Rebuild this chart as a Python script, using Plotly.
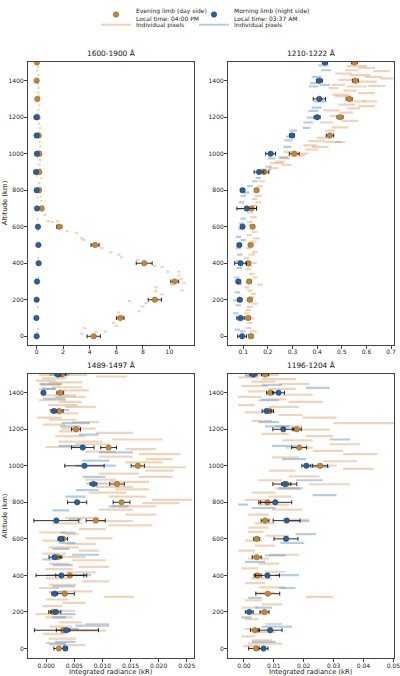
import plotly.graph_objects as go

ALT = [0, 100, 200, 300, 400, 500, 600, 700, 800, 900, 1000, 1100, 1200, 1300, 1400, 1500]

TITLES = ["1600-1900 Å", "1210-1222 Å", "1489-1497 Å", "1196-1204 Å"]
X_TITLE = "Integrated radiance (kR)"
Y_TITLE = "Altitude (km)"

# ---------------- Panel 1 : 1600-1900 A ----------------
p1_eve = [4.3, 6.3, 8.9, 10.4, 8.1, 4.4, 1.7, 0.38, 0.18, 0.2, 0.2, 0.15, 0.06, 0.05, 0.0, 0.02]
p1_eve_err = [0.5, 0.28, 0.5, 0.3, 0.6, 0.3, 0.2, 0.08, 0.06, 0.06, 0.06, 0.05, 0.04, 0.04, 0.04, 0.04]
p1_mor = [0.0, -0.02, 0.0, 0.03, 0.15, 0.13, 0.1, 0.03, 0.0, -0.05, 0.02, 0.0, -0.02, None, None, None]
p1_mor_err = [0.03] * 16
p1_eve_pix = [
    (1495, 0.05, 0.08), (1475, 0.1, 0.08), (1455, 0.05, 0.08), (1430, 0.12, 0.08), (1410, 0.08, 0.08),
    (1385, 0.1, 0.08), (1360, 0.15, 0.08), (1335, 0.12, 0.08), (1315, 0.18, 0.08), (1290, 0.1, 0.08),
    (1265, 0.2, 0.08), (1240, 0.15, 0.08), (1215, 0.1, 0.08), (1190, 0.22, 0.08), (1165, 0.18, 0.08),
    (1140, 0.25, 0.08), (1115, 0.2, 0.08), (1090, 0.3, 0.08), (1065, 0.22, 0.08), (1040, 0.28, 0.08),
    (1015, 0.2, 0.08), (990, 0.3, 0.08), (965, 0.25, 0.08), (940, 0.22, 0.08), (915, 0.3, 0.08),
    (890, 0.25, 0.08), (865, 0.35, 0.08), (840, 0.2, 0.08), (815, 0.3, 0.08), (790, 0.25, 0.08),
    (765, 0.3, 0.08), (740, 0.35, 0.08), (715, 0.45, 0.08), (690, 0.4, 0.08), (665, 0.6, 0.1),
    (631, 0.88, 0.12), (626, 1.2, 0.12), (629, 1.58, 0.12), (576, 2.29, 0.12), (567, 3.0, 0.12),
    (536, 3.4, 0.12), (528, 3.55, 0.12), (483, 4.9, 0.12), (460, 5.6, 0.12), (447, 6.2, 0.12),
    (433, 6.4, 0.12), (418, 7.6, 0.12), (384, 8.87, 0.12), (379, 9.45, 0.12), (354, 9.87, 0.12),
    (354, 10.7, 0.12), (334, 10.75, 0.12), (313, 10.9, 0.12), (290, 11.1, 0.12), (282, 10.2, 0.12),
    (250, 10.95, 0.12), (268, 9.0, 0.12), (247, 8.95, 0.12), (229, 9.45, 0.12), (182, 8.24, 0.12),
    (164, 8.0, 0.12), (193, 7.0, 0.12), (138, 7.7, 0.12), (130, 6.16, 0.12), (111, 6.5, 0.12),
    (75, 5.8, 0.12), (57, 6.0, 0.12), (27, 5.18, 0.12), (45, 3.6, 0.12), (14, 3.4, 0.12), (23, 4.47, 0.12),
]
p1_mor_pix = [
    (1100, 0.1, 0.05), (980, 0.08, 0.05), (880, 0.05, 0.05), (760, 0.08, 0.05), (640, 0.05, 0.05),
    (580, 0.1, 0.05), (510, 0.12, 0.05), (430, 0.1, 0.05), (320, 0.15, 0.05), (290, 0.1, 0.05),
    (200, 0.12, 0.05), (160, 0.08, 0.05), (40, 0.1, 0.05), (20, 0.05, 0.05),
]

# ---------------- Panel 2 : 1210-1222 A ----------------
p2_eve = [0.131, 0.12, 0.127, 0.124, 0.12, 0.13, 0.138, 0.134, 0.154, 0.184, 0.307, 0.452, 0.493, 0.53, 0.555, 0.551]
p2_eve_err = [0.008, 0.008, 0.008, 0.008, 0.008, 0.008, 0.008, 0.02, 0.008, 0.02, 0.02, 0.015, 0.012, 0.012, 0.012, 0.012]
p2_mor = [0.095, 0.089, 0.086, 0.08, 0.089, 0.084, 0.097, 0.114, 0.097, 0.164, 0.211, 0.298, 0.40, 0.409, 0.409, 0.432]
p2_mor_err = [0.018, 0.015, 0.008, 0.008, 0.024, 0.008, 0.008, 0.04, 0.008, 0.02, 0.02, 0.01, 0.012, 0.025, 0.012, 0.01]
p2_eve_pix = [
    (1480, 0.561, 0.041), (1470, 0.601, 0.034), (1457, 0.540, 0.027), (1452, 0.662, 0.034), (1439, 0.506, 0.034),
    (1430, 0.574, 0.041), (1421, 0.628, 0.034), (1413, 0.683, 0.027), (1404, 0.520, 0.034), (1395, 0.601, 0.041),
    (1377, 0.486, 0.027), (1368, 0.561, 0.041), (1371, 0.642, 0.034), (1345, 0.534, 0.027), (1332, 0.601, 0.034),
    (1323, 0.493, 0.034), (1359, 0.466, 0.02), (1314, 0.506, 0.034), (1287, 0.561, 0.034), (1287, 0.615, 0.027),
    (1269, 0.520, 0.034), (1261, 0.601, 0.034), (1248, 0.547, 0.027), (1237, 0.459, 0.034), (1225, 0.520, 0.027),
    (1207, 0.479, 0.027), (1180, 0.534, 0.034), (1171, 0.439, 0.027), (1144, 0.493, 0.034), (1126, 0.452, 0.02),
    (1087, 0.425, 0.027), (1069, 0.398, 0.034), (1064, 0.466, 0.034), (1046, 0.371, 0.027), (1037, 0.412, 0.034),
    (1064, 0.493, 0.02), (1023, 0.378, 0.027), (1001, 0.337, 0.027), (1010, 0.290, 0.027), (991, 0.317, 0.034),
    (974, 0.269, 0.02), (957, 0.249, 0.02), (939, 0.276, 0.02), (948, 0.235, 0.027), (921, 0.222, 0.02),
    (912, 0.195, 0.02), (894, 0.188, 0.0135), (849, 0.175, 0.0135), (822, 0.168, 0.011), (805, 0.154, 0.011),
    (769, 0.161, 0.0135), (751, 0.147, 0.011), (733, 0.161, 0.011), (715, 0.147, 0.011), (679, 0.127, 0.0135),
    (653, 0.141, 0.0135), (626, 0.127, 0.011), (608, 0.134, 0.0135), (572, 0.147, 0.011), (554, 0.124, 0.011),
    (536, 0.154, 0.0135), (518, 0.141, 0.0135), (501, 0.127, 0.011), (483, 0.120, 0.011), (461, 0.147, 0.011),
    (447, 0.134, 0.0135), (429, 0.114, 0.011), (402, 0.141, 0.0135), (384, 0.127, 0.011), (367, 0.120, 0.011),
    (340, 0.134, 0.011), (322, 0.147, 0.011), (304, 0.127, 0.011), (268, 0.114, 0.011), (283, 0.168, 0.011),
    (250, 0.127, 0.011), (232, 0.141, 0.011), (215, 0.134, 0.011), (197, 0.120, 0.011), (179, 0.147, 0.011),
    (161, 0.127, 0.0135), (143, 0.120, 0.011), (125, 0.114, 0.011), (98, 0.134, 0.011), (72, 0.127, 0.011),
    (45, 0.120, 0.011), (27, 0.141, 0.0135), (9, 0.127, 0.011),
]
p2_mor_pix = [
    (1484, 0.425, 0.02), (1457, 0.436, 0.02), (1421, 0.398, 0.02), (1386, 0.391, 0.02), (1377, 0.432, 0.02),
    (1368, 0.385, 0.02), (1287, 0.412, 0.027), (1252, 0.398, 0.02), (1234, 0.385, 0.02), (1198, 0.378, 0.02),
    (1171, 0.364, 0.02), (1141, 0.357, 0.016), (1126, 0.303, 0.016), (1094, 0.290, 0.016), (1073, 0.283, 0.016),
    (1037, 0.279, 0.016), (980, 0.263, 0.02), (974, 0.215, 0.016), (930, 0.202, 0.0135), (912, 0.181, 0.0135),
    (867, 0.161, 0.011), (849, 0.147, 0.011), (822, 0.127, 0.011), (787, 0.114, 0.011), (769, 0.100, 0.011),
    (733, 0.093, 0.011), (697, 0.086, 0.011), (644, 0.100, 0.011), (617, 0.093, 0.011), (590, 0.089, 0.011),
    (545, 0.080, 0.011), (527, 0.100, 0.011), (483, 0.080, 0.011), (447, 0.086, 0.011), (411, 0.076, 0.011),
    (375, 0.084, 0.011), (322, 0.073, 0.011), (286, 0.084, 0.011), (241, 0.076, 0.011), (197, 0.070, 0.011),
    (170, 0.080, 0.011), (125, 0.070, 0.011), (89, 0.086, 0.011), (36, 0.076, 0.011), (27, 0.097, 0.011),
]

# ---------------- Panel 3 : 1489-1497 A ----------------
p3_eve = [0.00226, 0.003, 0.00125, 0.0033, 0.0042, 0.002, 0.003, 0.0088, 0.0134, 0.0126, 0.0163, 0.0111, 0.0053, 0.0023, 0.0025, 0.0028]
p3_eve_err = [0.0009, 0.0012, 0.0008, 0.0017, 0.0025, 0.0008, 0.0008, 0.0017, 0.0015, 0.0013, 0.0012, 0.0014, 0.0008, 0.0007, 0.0006, 0.0007]
p3_mor = [0.0034, 0.0036, 0.0017, 0.0015, 0.0027, 0.0015, 0.0026, 0.0018, 0.0055, 0.0084, 0.0068, 0.0065, None, 0.00137, -0.0005, 0.0021]
p3_mor_err = [0.0003, 0.0057, 0.0009, 0.0005, 0.0045, 0.001, 0.0005, 0.004, 0.0017, 0.0006, 0.0035, 0.002, 0.0008, 0.0005, 0.0003, 0.0005]
p3_eve_pix = [
    (1497, 0.0030, 0.0043), (1489, 0.0116, 0.0028), (1479, 0.00137, 0.0021), (1466, -0.0001, 0.0018), (1457, 0.0034, 0.003),
    (1443, 0.0008, 0.0018), (1430, 0.0037, 0.0027), (1421, 0.0002, 0.0015), (1413, 0.0052, 0.0024), (1386, 0.0023, 0.003),
    (1377, 0.0043, 0.0027), (1359, 0.0011, 0.0024), (1350, 0.0043, 0.002), (1332, 0.0029, 0.0026), (1323, 0.0061, 0.0027),
    (1287, 0.0037, 0.002), (1264, 0.0006, 0.0022), (1252, 0.0029, 0.0024), (1239, 0.0070, 0.0024), (1225, 0.0014, 0.002),
    (1203, 0.0058, 0.003), (1189, 0.0043, 0.002), (1180, 0.0121, 0.0033), (1162, 0.0043, 0.0027), (1144, 0.0162, 0.0045),
    (1132, 0.0061, 0.0039), (1118, 0.0082, 0.003), (1103, 0.0026, 0.0027), (1091, 0.0168, 0.0027), (1078, 0.0097, 0.0027),
    (1064, 0.0202, 0.0037), (1050, 0.0124, 0.003), (1037, 0.0201, 0.0024), (1019, 0.0174, 0.0033), (992, 0.0201, 0.0048),
    (974, 0.0202, 0.0025), (957, 0.0129, 0.0036), (939, 0.0195, 0.003), (924, 0.0097, 0.0027), (912, 0.0147, 0.0036),
    (885, 0.0121, 0.0033), (871, 0.0153, 0.003), (853, 0.0109, 0.0033), (831, 0.0144, 0.0033), (813, 0.0224, 0.0036),
    (796, 0.0204, 0.0033), (778, 0.0156, 0.0039), (760, 0.0124, 0.003), (733, 0.0168, 0.0027), (715, 0.0064, 0.003),
    (697, 0.0118, 0.0036), (685, 0.0037, 0.0027), (674, 0.0150, 0.0039), (653, 0.0082, 0.0024), (635, 0.0011, 0.0024),
    (626, 0.0046, 0.0012), (603, 0.0094, 0.0024), (590, 0.0011, 0.0018), (572, 0.0061, 0.0027), (554, 0.0031, 0.0027),
    (536, 0.0076, 0.0018), (519, 0.0014, 0.0021), (501, 0.0043, 0.0027), (483, 0.0076, 0.003), (465, 0.0023, 0.0018),
    (447, 0.0085, 0.0027), (434, 0.0023, 0.0024), (417, 0.0061, 0.0027), (384, 0.0020, 0.002), (367, 0.0088, 0.0024),
    (349, 0.0029, 0.0024), (331, 0.0005, 0.0018), (313, 0.0052, 0.003), (283, 0.0129, 0.0027), (268, 0.0020, 0.002),
    (250, 0.0049, 0.0021), (232, 0.0011, 0.0018), (206, 0.0031, 0.002), (188, -0.0001, 0.0018), (170, 0.0023, 0.0024),
    (143, 0.0043, 0.002), (134, 0.0091, 0.0021), (120, 0.0026, 0.002), (98, 0.0070, 0.0036), (80, 0.0014, 0.002),
    (54, 0.0029, 0.0024), (30, 0.0017, 0.0018), (18, 0.0049, 0.002),
]
p3_mor_pix = [
    (1497, 0.0023, 0.0018), (1448, 0.0008, 0.002), (1421, 0.0005, 0.0012), (1368, 0.0014, 0.002), (1305, 0.0023, 0.0018),
    (1234, 0.0053, 0.0025), (1216, 0.0043, 0.0018), (1171, 0.0076, 0.0018), (1109, 0.0046, 0.0024), (1073, 0.0124, 0.003),
    (1028, 0.0088, 0.0024), (1001, 0.0088, 0.0036), (939, 0.0085, 0.002), (903, 0.0091, 0.002), (867, 0.0073, 0.002),
    (831, 0.0052, 0.0018), (778, 0.0129, 0.0018), (756, 0.0026, 0.0015), (706, 0.0052, 0.0012), (635, 0.0039, 0.0013),
    (578, 0.0037, 0.0015), (545, 0.0026, 0.0015), (513, 0.0070, 0.0024), (488, 0.0002, 0.0009), (456, 0.0029, 0.0018),
    (402, 0.0040, 0.004), (340, 0.0031, 0.002), (309, 0.0020, 0.0015), (188, 0.0037, 0.0015), (170, 0.0023, 0.0012),
    (125, 0.0082, 0.003), (107, 0.0043, 0.0015), (36, 0.0034, 0.0018), (23, 0.0020, 0.0015),
]

# ---------------- Panel 4 : 1196-1204 A ----------------
p4_eve = [0.0041, 0.0037, 0.0069, 0.008, 0.0046, 0.0043, 0.0043, 0.0071, 0.0079, 0.0142, 0.0255, 0.0185, 0.0177, 0.0086, 0.0088, 0.0071]
p4_eve_err = [0.0025, 0.0015, 0.0015, 0.004, 0.0012, 0.0015, 0.001, 0.0013, 0.0023, 0.0015, 0.0025, 0.0025, 0.0015, 0.0013, 0.0012, 0.0012]
p4_mor = [0.0066, 0.0088, 0.0018, None, 0.0079, None, 0.0141, 0.0143, 0.0105, 0.0137, 0.0209, None, 0.0132, 0.0076, 0.0116, 0.0032]
p4_mor_err = [0.0015, 0.004, 0.0013, 0.003, 0.004, 0.0015, 0.004, 0.0045, 0.0055, 0.004, 0.0015, 0.004, 0.0035, 0.0015, 0.002, 0.0012]
p4_eve_pix = [
    (1497, 0.006, 0.0057), (1484, 0.0015, 0.0034), (1475, 0.0117, 0.0057), (1461, 0.0066, 0.004), (1448, 0.0168, 0.0051),
    (1436, 0.0037, 0.0045), (1421, 0.0128, 0.0045), (1407, 0.0043, 0.0028), (1389, 0.0179, 0.0051), (1377, 0.002, 0.004),
    (1364, 0.01, 0.004), (1350, 0.0207, 0.0057), (1332, 0.0009, 0.0028), (1323, 0.0134, 0.0051), (1293, 0.0054, 0.0051),
    (1278, 0.0156, 0.004), (1264, 0.0253, 0.0057), (1246, 0.006, 0.0034), (1234, 0.0412, 0.0113), (1216, 0.0151, 0.0045),
    (1198, 0.023, 0.0057), (1175, 0.0105, 0.0045), (1162, 0.0253, 0.0045), (1139, 0.0179, 0.0051), (1118, 0.0338, 0.0051),
    (1100, 0.0185, 0.0045), (1082, 0.0281, 0.0051), (1064, 0.0389, 0.0057), (1046, 0.0139, 0.0045), (1025, 0.0321, 0.0057),
    (1001, 0.0253, 0.0057), (983, 0.0383, 0.0051), (974, 0.0128, 0.0045), (942, 0.0202, 0.0051), (921, 0.0088, 0.004),
    (899, 0.0287, 0.0068), (876, 0.0145, 0.004), (853, 0.0066, 0.004), (831, 0.0122, 0.004), (813, 0.0037, 0.0034),
    (787, 0.01, 0.0051), (760, 0.0145, 0.0051), (733, 0.0049, 0.0034), (706, 0.0173, 0.0045), (685, 0.0071, 0.0034),
    (662, 0.0049, 0.0034), (638, 0.004, 0.0026), (617, 0.0111, 0.004), (590, 0.0032, 0.0028), (563, 0.0071, 0.0034),
    (536, 0.0009, 0.0028), (513, 0.0134, 0.0051), (492, 0.0049, 0.0034), (465, 0.0083, 0.0034), (438, 0.002, 0.0028),
    (420, 0.0105, 0.0034), (384, 0.006, 0.0034), (358, 0.0037, 0.0034), (334, 0.0094, 0.0045), (304, 0.0071, 0.0034),
    (283, 0.0253, 0.0045), (263, 0.0032, 0.0028), (241, 0.0094, 0.0034), (224, 0.002, 0.0028), (188, 0.0054, 0.0028),
    (161, 0.0026, 0.0023), (134, 0.01, 0.0028), (107, 0.0026, 0.0023), (89, 0.0071, 0.0034), (66, 0.0015, 0.0023),
    (45, 0.006, 0.0034), (27, 0.0071, 0.0057), (13, 0.0026, 0.0028),
]
p4_mor_pix = [
    (1493, 0.002, 0.0017), (1443, 0.0094, 0.0034), (1427, 0.0247, 0.004), (1359, 0.0083, 0.0034), (1239, 0.0083, 0.0034),
    (1216, 0.0111, 0.004), (1144, 0.0321, 0.0034), (1109, 0.0134, 0.004), (1037, 0.0168, 0.004), (992, 0.0259, 0.0028),
    (921, 0.0219, 0.0045), (876, 0.0156, 0.004), (840, 0.027, 0.004), (787, -0.0002, 0.0017), (769, 0.0066, 0.004),
    (697, 0.0179, 0.004), (626, 0.0207, 0.0034), (578, 0.0162, 0.004), (510, 0.0105, 0.0034), (474, 0.0037, 0.0034),
    (402, 0.0145, 0.004), (331, 0.0145, 0.0028), (277, 0.0037, 0.0023), (224, 0.0066, 0.0028), (170, 0.0009, 0.0017),
    (120, 0.0111, 0.0051), (36, 0.0066, 0.004),
]

X_RANGES = [[-0.65, 11.85], [0.038, 0.712], [-0.00324, 0.02629], [-0.0053, 0.0502]]
X_TICKS = [[0, 2, 4, 6, 8, 10], [0.1, 0.2, 0.3, 0.4, 0.5, 0.6, 0.7],
           [0.0, 0.005, 0.01, 0.015, 0.02, 0.025], [0.0, 0.01, 0.02, 0.03, 0.04, 0.05]]
X_FMT = ["d", ".1f", ".3f", ".2f"]
Y_RANGES = [[-45, 1502], [-45, 1502], [-54, 1503], [-54, 1503]]
Y_TICKS = [0, 200, 400, 600, 800, 1000, 1200, 1400]

# ---------------- styling ----------------
FONT = "DejaVu Sans"
EVE_C = "#bf8840"
MOR_C = "#2f5e96"
EVE_PIX = "rgba(205,133,63,0.35)"
MOR_PIX = "rgba(70,130,180,0.40)"
ERR_C = "rgba(25,25,25,0.9)"

W, H = 400, 676
XDOM = [[28 / W, 194 / W], [228 / W, 394 / W], [28 / W, 194 / W], [228 / W, 394 / W]]
YDOM = [[1 - 338 / H, 1 - 50 / H], [1 - 338 / H, 1 - 50 / H], [1 - 658 / H, 1 - 368 / H], [1 - 658 / H, 1 - 368 / H]]

panels = [
    (p1_eve, p1_eve_err, p1_mor, p1_mor_err, p1_eve_pix, p1_mor_pix),
    (p2_eve, p2_eve_err, p2_mor, p2_mor_err, p2_eve_pix, p2_mor_pix),
    (p3_eve, p3_eve_err, p3_mor, p3_mor_err, p3_eve_pix, p3_mor_pix),
    (p4_eve, p4_eve_err, p4_mor, p4_mor_err, p4_eve_pix, p4_mor_pix),
]

fig = go.Figure()


def pix_trace(pix, color, xa, ya):
    return go.Scatter(
        x=[p[1] for p in pix], y=[p[0] for p in pix],
        mode="markers", marker=dict(size=2, opacity=0),
        error_x=dict(type="data", array=[p[2] for p in pix], color=color, thickness=2.2, width=0),
        showlegend=False, hoverinfo="skip", xaxis=xa, yaxis=ya,
    )


for i, (ev, eve_e, mo, mo_e, epix, mpix) in enumerate(panels):
    xa = "x" if i == 0 else f"x{i+1}"
    ya = "y" if i == 0 else f"y{i+1}"
    fig.add_trace(pix_trace(epix, EVE_PIX, xa, ya))
    fig.add_trace(pix_trace(mpix, MOR_PIX, xa, ya))
    fig.add_trace(go.Scatter(
        x=ev, y=ALT, mode="markers",
        marker=dict(size=5.5, color=EVE_C, line=dict(width=0.5, color="#8a5e25")),
        error_x=dict(type="data", array=eve_e, color=ERR_C, thickness=1, width=2),
        name="Evening limb (day side)<br>Local time: 04:00 PM",
        showlegend=(i == 0), legend="legend", xaxis=xa, yaxis=ya,
    ))
    fig.add_trace(go.Scatter(
        x=mo, y=ALT, mode="markers",
        marker=dict(size=5.5, color=MOR_C, line=dict(width=0.5, color="#1d3f6a")),
        error_x=dict(type="data", array=mo_e, color=ERR_C, thickness=1, width=2),
        name="Morning limb (night side)<br>Local time: 03:37 AM",
        showlegend=(i == 0), legend="legend2", xaxis=xa, yaxis=ya,
    ))

# legend-only entries for individual pixels
fig.add_trace(go.Scatter(x=[None], y=[None], mode="lines", line=dict(color=EVE_PIX, width=2),
                         name="Individual pixels", legend="legend3"))
fig.add_trace(go.Scatter(x=[None], y=[None], mode="lines", line=dict(color=MOR_PIX, width=2),
                         name="Individual pixels", legend="legend4"))

axis_common = dict(showline=True, mirror=True, linecolor="#444", linewidth=1, ticks="outside",
                   ticklen=3, tickwidth=0.8, tickcolor="#444", tickfont=dict(size=6, color="#222", family=FONT),
                   showgrid=False, zeroline=False, automargin=False)


def leg(x, yc):
    return dict(x=x, y=1 - yc / H, xanchor="left", yanchor="middle", bgcolor="rgba(0,0,0,0)",
                font=dict(size=6, family=FONT, color="#222"), itemwidth=30, tracegroupgap=0,
                borderwidth=0)


layout = dict(
    width=W, height=H, margin=dict(l=0, r=0, t=0, b=0),
    paper_bgcolor="white", plot_bgcolor="white",
    font=dict(family=FONT, size=7, color="#222"),
    legend=leg(0.24, 1.5), legend2=leg(0.485, 1.5),
    legend3=leg(0.24, 12), legend4=leg(0.485, 12),
    annotations=[],
)

for i in range(4):
    xk = "xaxis" if i == 0 else f"xaxis{i+1}"
    yk = "yaxis" if i == 0 else f"yaxis{i+1}"
    ya = "y" if i == 0 else f"y{i+1}"
    xa = "x" if i == 0 else f"x{i+1}"
    layout[xk] = dict(axis_common, domain=XDOM[i], range=X_RANGES[i], tickvals=X_TICKS[i],
                      tickformat=X_FMT[i], anchor=ya, ticklabeloverflow="allow", ticklabelstandoff=-2)
    layout[yk] = dict(axis_common, domain=YDOM[i], range=Y_RANGES[i], tickvals=Y_TICKS, anchor=xa,
                      ticklabelstandoff=-1)
    xc = (XDOM[i][0] + XDOM[i][1]) / 2
    yc = (YDOM[i][0] + YDOM[i][1]) / 2
    layout["annotations"].append(dict(
        text=TITLES[i], xref="paper", yref="paper", x=xc,
        y=YDOM[i][1] + 2 / H, xanchor="center", yanchor="bottom", showarrow=False,
        font=dict(size=7.4, family=FONT, color="#111")))
    if i >= 2:
        layout["annotations"].append(dict(
            text=X_TITLE, xref="paper", yref="paper", x=xc, y=1 - 672 / H,
            xanchor="center", yanchor="middle", showarrow=False,
            font=dict(size=6.8, family=FONT, color="#222")))
    if i % 2 == 0:
        layout["annotations"].append(dict(
            text=Y_TITLE, xref="paper", yref="paper", x=5 / W, y=yc, textangle=-90,
            xanchor="center", yanchor="middle", showarrow=False,
            font=dict(size=6.8, family=FONT, color="#222")))

fig.update_layout(**layout)
fig.write_html("out.html")
